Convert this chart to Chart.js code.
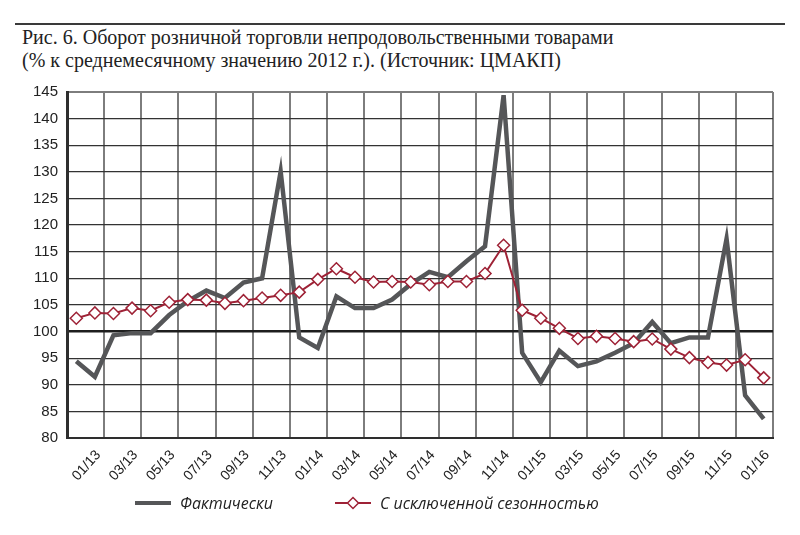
<!DOCTYPE html>
<html lang="ru">
<head>
<meta charset="utf-8">
<title>Оборот розничной торговли непродовольственными товарами</title>
<script src="https://cdn.jsdelivr.net/npm/chart.js@4/dist/chart.umd.min.js"></script>
<style>
    html, body { margin: 0; padding: 0; background: #fff; }
    body { width: 800px; height: 535px; position: relative; overflow: hidden; }
    .caption {
        position: absolute; left: 22px; top: 26px;
        font-family: 'Liberation Serif', 'DejaVu Serif', serif;
        font-size: 20px; line-height: 23px; color: #222;
        white-space: nowrap;
    }
    .chart-box { position: absolute; left: 0; top: 0; width: 800px; height: 535px; }
    .legend-item {
        position: absolute; top: 492px; height: 22px;
        display: flex; align-items: center;
        font-family: 'Open Sans', sans-serif; font-style: italic; font-size: 16px; color: #222;
        white-space: nowrap;
    }
    .legend-item canvas { margin-right: 9px; }
</style>
</head>
<body>
<div class="caption">Рис. 6. Оборот розничной торговли непродовольственными товарами<br>(% к среднемесячному значению 2012 г.). (Источник: ЦМАКП)</div>
<div class="chart-box"><canvas id="turnoverChart"></canvas></div>
<div class="legend-item" id="legend0" style="left: 135px;"></div>
<div class="legend-item" id="legend1" style="left: 335px;"></div>

<script>
// Months 01/13 .. 02/16
const months = [
    '01/13', '02/13', '03/13', '04/13', '05/13', '06/13', '07/13', '08/13', '09/13', '10/13', '11/13', '12/13',
    '01/14', '02/14', '03/14', '04/14', '05/14', '06/14', '07/14', '08/14', '09/14', '10/14', '11/14', '12/14',
    '01/15', '02/15', '03/15', '04/15', '05/15', '06/15', '07/15', '08/15', '09/15', '10/15', '11/15', '12/15',
    '01/16', '02/16'
];

// Фактически
const actual = [
    94.4, 91.5, 99.3, 99.7, 99.7, 103.1, 105.7, 107.7, 106.3, 109.2, 110.0, 130.1,
    98.9, 96.9, 106.6, 104.4, 104.4, 106.0, 108.9, 111.2, 110.2, 113.2, 116.0, 144.4,
    96.0, 90.5, 96.4, 93.5, 94.4, 96.0, 97.8, 101.8, 97.8, 98.9, 98.9, 117.4,
    88.0, 83.6
];

// С исключенной сезонностью
const seasonAdj = [
    102.5, 103.5, 103.4, 104.4, 103.9, 105.5, 106.0, 105.9, 105.3, 105.8, 106.3, 106.8,
    107.4, 109.8, 111.8, 110.2, 109.3, 109.4, 109.3, 108.8, 109.4, 109.4, 110.9, 116.2,
    104.0, 102.5, 100.6, 98.7, 99.1, 98.7, 98.1, 98.6, 96.7, 95.1, 94.2, 93.7,
    94.7, 91.3
];

const seriesNames = ['Фактически', 'С исключенной сезонностью'];

const grayColor = '#555658';
const redColor = '#9e2236';

// small legend symbols: plain line / line with a diamond
function makeSymbol(withDiamond) {
    const c = document.createElement('canvas');
    c.width = 36;
    c.height = 14;
    const g = c.getContext('2d');
    g.strokeStyle = withDiamond ? redColor : grayColor;
    g.lineWidth = withDiamond ? 2 : 4;
    g.beginPath();
    g.moveTo(0, 7);
    g.lineTo(36, 7);
    g.stroke();
    if (withDiamond) {
        g.fillStyle = '#fff';
        g.lineWidth = 1.5;
        g.beginPath();
        g.moveTo(18, 1.5);
        g.lineTo(23.5, 7);
        g.lineTo(18, 12.5);
        g.lineTo(12.5, 7);
        g.closePath();
        g.fill();
        g.stroke();
    }
    return c;
}

// Legend (built from the series names)
seriesNames.forEach((name, i) => {
    const item = document.getElementById('legend' + i);
    item.appendChild(makeSymbol(i === 1));
    const span = document.createElement('span');
    span.textContent = name;
    item.appendChild(span);
});

// horizontal rule above the caption
const topRule = {
    id: 'topRule',
    beforeDraw(chart) {
        const g = chart.ctx;
        g.save();
        g.fillStyle = '#3a3a3a';
        g.fillRect(15, 23, 770, 2);
        g.restore();
    }
};

document.addEventListener('DOMContentLoaded', () => {
    const ctx = document.getElementById('turnoverChart').getContext('2d');
    new Chart(ctx, {
        type: 'line',
        data: {
            labels: months,
            datasets: [{
                label: seriesNames[0],
                data: actual,
                borderColor: grayColor,
                borderWidth: 4.5,
                pointRadius: 0,
                tension: 0,
                order: 1
            }, {
                label: seriesNames[1],
                data: seasonAdj,
                borderColor: redColor,
                borderWidth: 2,
                pointStyle: 'rectRot',
                pointRadius: 6,
                pointBackgroundColor: '#fff',
                pointBorderColor: redColor,
                pointBorderWidth: 1.5,
                tension: 0,
                order: 0
            }]
        },
        plugins: [topRule],
        options: {
            responsive: true,
            maintainAspectRatio: false,
            devicePixelRatio: 1,
            animation: false,
            layout: {
                padding: { left: 7, right: 27, top: 92, bottom: 47 }
            },
            plugins: {
                tooltip: { enabled: false },
                legend: { display: false }
            },
            scales: {
                x: {
                    offset: true,
                    afterFit: (scale) => { scale.height = 50; },
                    grid: {
                        offset: true,
                        drawTicks: false,
                        lineWidth: 2,
                        color: (c) => (c.index === undefined || c.index % 2 === 0) ? '#7d7d7d' : 'rgba(0,0,0,0)'
                    },
                    border: { color: '#2e2e2e', width: 2 },
                    ticks: {
                        autoSkip: false,
                        minRotation: 48,
                        maxRotation: 48,
                        labelOffset: 22,
                        padding: 9,
                        color: '#222',
                        font: { family: "'Liberation Sans Narrow', 'Liberation Sans', sans-serif", size: 14 },
                        callback: (val, i) => i % 2 === 0 ? months[i] : ''
                    }
                },
                y: {
                    min: 80,
                    max: 145,
                    afterFit: (scale) => { scale.width = 60; },
                    grid: {
                        drawTicks: false,
                        lineWidth: (c) => c.tick && c.tick.value === 100 ? 2.5 : (c.tick && c.tick.value === 145 ? 2 : 1.3),
                        color: (c) => c.tick && c.tick.value === 145 ? '#7d7d7d' : (c.tick && c.tick.value === 100 ? '#1e1e1e' : '#333')
                    },
                    border: { color: '#2e2e2e', width: 3 },
                    ticks: {
                        stepSize: 5,
                        padding: 9,
                        color: '#222',
                        font: { family: "'Liberation Sans Narrow', 'Liberation Sans', sans-serif", size: 15 }
                    }
                }
            }
        }
    });
});
</script>
</body>
</html>
